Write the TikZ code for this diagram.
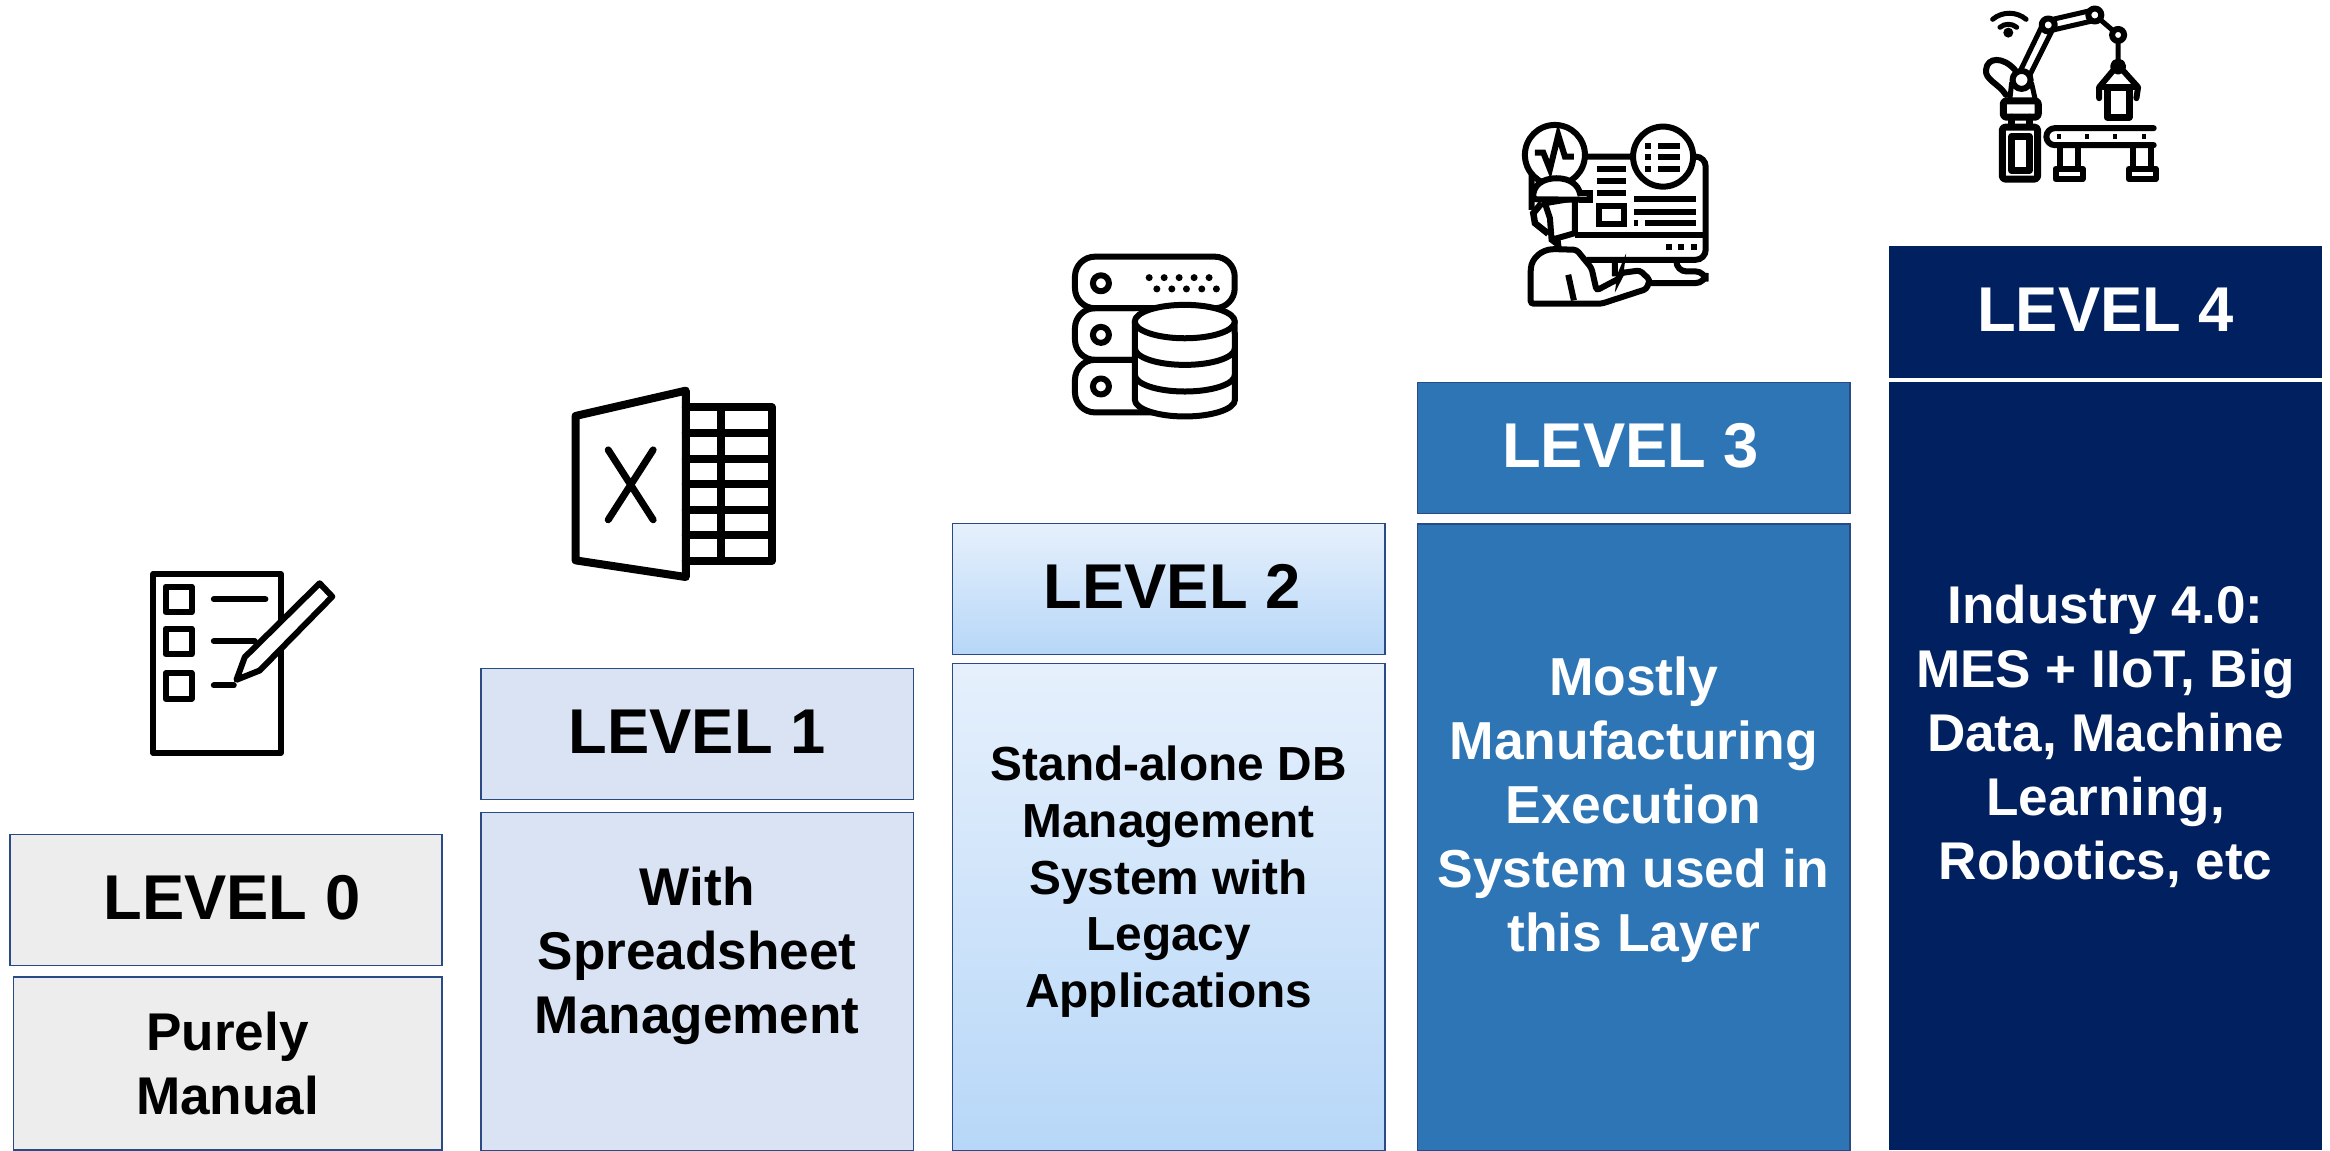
\documentclass[tikz,border=0pt]{standalone}
\usepackage{fontspec}
\setmainfont{Liberation Sans}
\definecolor{greybox}{HTML}{EDEDED}
\definecolor{paleblue}{HTML}{DAE3F3}
\definecolor{midblue}{HTML}{2E75B6}
\definecolor{darkblue}{HTML}{002060}
\definecolor{edgeblue}{HTML}{2A4A86}
\definecolor{gradtop}{HTML}{E6F0FC}
\definecolor{gradbot}{HTML}{B7D7F8}
\tikzset{
 box/.style={anchor=north west,minimum width=4.32cm,inner sep=0pt,outer sep=0pt,align=center,draw=edgeblue,line width=0.15mm},
 head/.style={box,minimum height=1.31cm,text height=4.6mm,text depth=0.8mm,font=\bfseries\fontsize{18}{22}\selectfont},
 body/.style={box,font=\bfseries\fontsize{15.1}{18.2}\selectfont},
 gradbox/.style={top color=gradtop,bottom color=gradbot},
 icon/.style={line width=0.06cm,line join=round,line cap=round,black},
 zoomed/.style={x=0.003333cm,y=-0.003333cm},
}
\begin{document}
\begin{tikzpicture}[x=0.01cm,y=-0.01cm]
\useasboundingbox (0,0) rectangle (2330,1150);
% level boxes
\node[head,fill=greybox] (head0) at (9.8,834.5) {\hspace*{0.12cm}LEVEL 0};
\node[body,fill=greybox,minimum width=4.28cm,minimum height=1.73cm] (body0) at (13.5,977) {Purely\\Manual};
\node[head,fill=paleblue] (head1) at (481,668.5) {LEVEL 1};
\node[body,fill=paleblue,minimum height=3.38cm] (body1) at (481,812.5) {With\\Spreadsheet\\Management\\[-0.01cm]};
\node[head,gradbox] (head2) at (952.5,523.5) {\hspace*{0.07cm}LEVEL 2};
\node[body,gradbox,minimum height=4.87cm,font=\bfseries\fontsize{13.6}{16.2}\selectfont] (body2) at (952.5,663.5) {Stand-alone DB\\Management\\System with\\Legacy\\Applications\\[0.04cm]};
\node[head,fill=midblue,text=white] (head3) at (1417.5,382.5) {LEVEL 3\hspace*{0.06cm}};
\node[body,fill=midblue,text=white,minimum height=6.26cm,font=\bfseries\fontsize{15.2}{18.2}\selectfont] (body3) at (1417.5,524) {Mostly\\Manufacturing\\Execution\\System used in\\this Layer\\[0.03cm]};
\node[head,fill=darkblue,draw=none,text=white,minimum width=4.33cm,minimum height=1.32cm] (head4) at (1889,246) {LEVEL 4};
\node[body,fill=darkblue,draw=none,text=white,minimum width=4.33cm,minimum height=7.68cm] (body4) at (1889,382) {Industry 4.0:\\MES + IIoT, Big\\Data, Machine\\Learning,\\Robotics, etc\\[0.04cm]};
% level 0 icon
\begin{scope}[shift={(100,540)},zoomed,icon]
\draw (160,102) rectangle (543,640);
\foreach \y in {131,257,391}
 \draw (197,\y+9) rectangle (275,\y+86);
\draw (342,178) -- (497,178);
\draw (342,304) -- (465,304);
\draw (342,437) -- (402,437);
\draw[fill=white] (660,130) -- (698,170) -- (480,392) -- (410,420) -- (435,352) -- cycle;
\end{scope}
% level 1 icon
\begin{scope}[shift={(540,370)},zoomed,icon,line width=0.08cm]
\draw (107,138) -- (438,62) -- (438,622) -- (107,572) -- cycle;
\draw (438,112) -- (696,112) -- (696,574) -- (438,574);
\foreach \y in {189,266,343,420,497}
 \draw (438,\y) -- (696,\y);
\draw (543,112) -- (543,574);
\draw[line width=0.07cm] (205,240) -- (340,450) (340,240) -- (205,450);
\end{scope}
% level 2 icon
\begin{scope}[shift={(1050,240)},zoomed,icon]
\draw[rounded corners=0.2cm] (75,50) rectangle (555,205);
\draw[rounded corners=0.2cm] (255,205) -- (75,205) -- (75,360) -- (255,360);
\draw[rounded corners=0.2cm] (255,360) -- (75,360) -- (75,518) -- (320,518);
\foreach \y in {130,285,440}
 \draw (153,\y) circle [radius=0.08cm];
\foreach \x in {298,343,388,433,478}
 \fill (\x,113) circle [radius=0.035cm];
\foreach \x in {321,366,410,456,500}
 \fill (\x,147) circle [radius=0.035cm];
\draw[fill=white] (255,245) -- (255,480) arc [start angle=180,end angle=360,x radius=0.5cm,y radius=0.167cm] -- (555,245) -- cycle;
\draw[fill=white] (405,245) ellipse [x radius=0.5cm,y radius=0.167cm];
\draw (255,325) arc [start angle=180,end angle=360,x radius=0.5cm,y radius=0.167cm];
\draw (255,405) arc [start angle=180,end angle=360,x radius=0.5cm,y radius=0.167cm];
\end{scope}
% level 3 icon
\begin{scope}[shift={(1500,110)},zoomed,icon,line join=miter,line cap=butt]
\draw[rounded corners=0.1cm] (95,300) -- (95,140) -- (618,140) -- (618,450) -- (260,450);
\draw (225,375) -- (616,375);
\draw[fill=white] (165,135) circle [radius=0.3cm];
\draw[fill=white] (490,140) circle [radius=0.3cm];
\draw (105,128) -- (130,128) -- (150,178) -- (175,75) -- (195,140) -- (222,140);
\foreach \y in {107,140,177} {
 \draw (436,\y) -- (454,\y);
 \draw (475,\y) -- (542,\y);
}
\foreach \y in {177,212,250}
 \draw (290,\y) -- (380,\y);
\draw (296,288) rectangle (372,343);
\draw (403,267) -- (590,267);
\draw (403,305) -- (590,305);
\draw (402,340) -- (414,340);
\draw (435,340) -- (590,340);
\foreach \x in {508,545,582}
 \draw (\x-9,412) -- (\x+9,412);
% stand and person
\draw[rounded corners=0.1cm] (345,450) -- (345,500) (530,450) -- (530,485) -- (618,485) -- (618,520) -- (440,520);
\draw[fill=white,rounded corners=0.03cm] (92,582) -- (92,485) .. controls (95,445) and (125,420) .. (165,418) -- (230,420) -- (275,475) -- (290,542) -- (360,505) -- (362,490) -- (420,482) -- (450,510) -- (440,538) -- (305,582) -- cycle;
\draw (205,495) -- (222,572);
\draw[fill=white] (135,280) -- (150,325) -- (155,390) -- (175,405) -- (172,385) -- (225,370) -- (225,265) -- cycle;
\draw[line width=0.065cm] (125,280) -- (100,310) -- (105,340) -- (145,372);
\draw[fill=white] (100,268) .. controls (95,225) and (130,205) .. (170,205) .. controls (210,205) and (235,225) .. (240,250) -- (270,250) -- (270,270) -- cycle;
\end{scope}
% level 4 icon
\begin{scope}[shift={(1970,0)},zoomed,icon,line width=0.05cm]
\fill (115,98) circle [radius=0.05cm];
\draw (90,82) arc [start angle=130,end angle=50,radius=0.13cm];
\draw (68,58) arc [start angle=130,end angle=50,radius=0.26cm];
\draw[line width=0.06cm] (108,285) .. controls (85,250) and (45,240) .. (48,210) .. controls (52,170) and (100,170) .. (135,210);
\draw[fill=white] (150,215) -- (220,70) -- (250,85) -- (175,235) -- cycle;
\draw[fill=white] (240,60) -- (370,30) -- (380,60) -- (250,90) -- cycle;
\draw (375,45) -- (445,105) (445,105) -- (445,200);
\draw[fill=white,line width=0.06cm] (235,75) circle [radius=0.065cm];
\draw[fill=white,line width=0.06cm] (375,45) circle [radius=0.065cm];
\draw[fill=white,line width=0.06cm] (445,105) circle [radius=0.06cm];
\draw[fill=white] (120,295) -- (125,250) -- (185,250) -- (195,295);
\draw[fill=white,line width=0.06cm] (155,240) circle [radius=0.09cm];
\draw[line width=0.07cm,rounded corners=0.03cm] (100,303) rectangle (205,352);
\draw[line width=0.07cm] (125,352) -- (125,380) (180,352) -- (180,380);
\draw[line width=0.07cm,rounded corners=0.03cm] (97,382) rectangle (203,538);
\draw[line width=0.07cm] (125,410) rectangle (178,512);
\draw[line width=0.06cm] (445,200) circle [radius=0.05cm];
\draw[line width=0.06cm] (388,295) -- (388,262) -- (430,212) (500,295) -- (505,262) -- (460,212);
\draw[line width=0.06cm] (395,262) -- (495,262);
\draw[line width=0.07cm,fill=white] (412,262) rectangle (478,352);
\draw[line width=0.06cm] (552,385) -- (255,385) arc [start angle=90,end angle=270,radius=0.085cm] -- (552,436);
\foreach \x in {267,352,437,522}
 \fill (\x-6,404) rectangle (\x+6,417);
\foreach \x in {270,490} {
 \draw[line width=0.06cm] (\x,437) -- (\x,505) (\x+55,437) -- (\x+55,505);
 \draw[line width=0.06cm] (\x-13,507) rectangle (\x+68,538);
}
\end{scope}
\end{tikzpicture}
\end{document}
